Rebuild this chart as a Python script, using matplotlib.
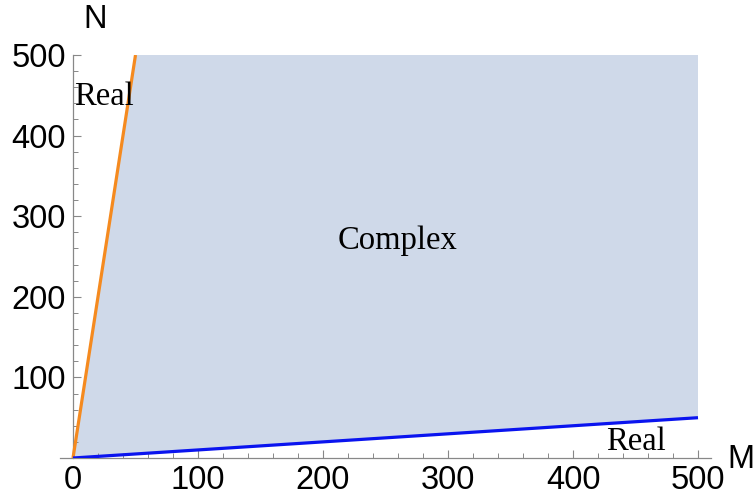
import matplotlib
matplotlib.use("Agg")
import matplotlib.pyplot as plt
from matplotlib.ticker import MultipleLocator

# Data
upper_M = [0, 50]          # orange boundary N = 10 M
upper_N = [0, 500]
lower_M = [0, 500]         # blue boundary N = M / 10
lower_N = [0, 50]
region_M = [0, 50, 500, 500]
region_N = [0, 500, 500, 50]
xticks = [0, 100, 200, 300, 400, 500]
yticks = [100, 200, 300, 400, 500]

fig = plt.figure(figsize=(7.55, 4.97), dpi=100)
ax = fig.add_axes([60/755, 39/497, 651/755, 403/497])
ax.set_xlim(-10.4, 510.4)
ax.set_ylim(0, 500)

ax.fill(region_M, region_N, color='#cfd9e9', lw=0, zorder=1)
ax.plot(upper_M, upper_N, color='#f58a1f', lw=2.3, zorder=3, solid_capstyle='butt')
ax.plot(lower_M, lower_N, color='#0a14ef', lw=2.3, zorder=3, solid_capstyle='butt')

for s in ['top', 'right']:
    ax.spines[s].set_visible(False)
ax.spines['left'].set_position(('data', 0))
ax.spines['left'].set_color('#888888')
ax.spines['bottom'].set_color('#888888')
ax.spines['left'].set_linewidth(0.9)
ax.spines['bottom'].set_linewidth(0.9)

ax.set_xticks(xticks)
ax.set_yticks(yticks)
ax.xaxis.set_minor_locator(MultipleLocator(20))
ax.yaxis.set_minor_locator(MultipleLocator(20))
ax.tick_params(which='major', direction='in', length=6, width=0.8, color='#888888',
               labelsize=23.5, labelcolor='black', pad=5)
ax.tick_params(which='minor', direction='in', length=3.5, width=0.7, color='#888888')
for lab in ax.get_xticklabels() + ax.get_yticklabels():
    lab.set_family('Liberation Sans')

fig.text(95/755, 1 - 20/497, 'N', fontsize=23.5, family='Liberation Sans', ha='center', va='center')
fig.text(741/755, 1 - 460/497, 'M', fontsize=23.5, family='Liberation Sans', ha='center', va='center')

ax.text(25, 448, 'Real', fontsize=23.5, family='Liberation Serif', ha='center', va='center', zorder=4)
ax.text(260, 270, 'Complex', fontsize=23.5, family='Liberation Serif', ha='center', va='center', zorder=4)
ax.text(450, 20, 'Real', fontsize=23.5, family='Liberation Serif', ha='center', va='center', zorder=4)

fig.savefig('out.png', dpi=100)
